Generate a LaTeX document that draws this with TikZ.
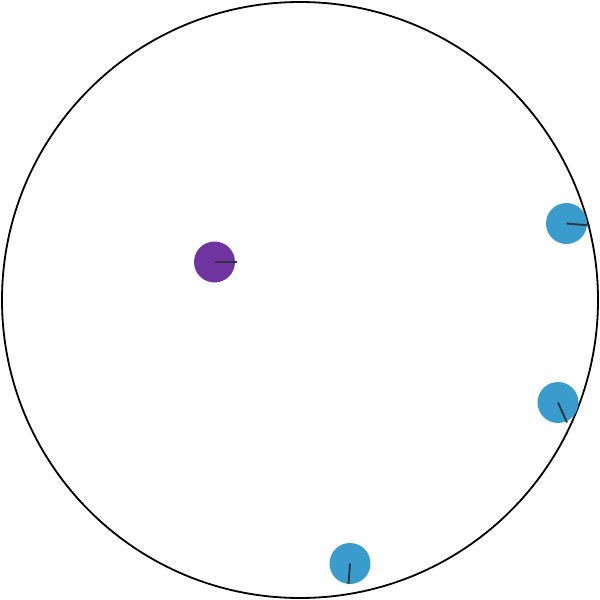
\documentclass[tikz,border=0pt]{standalone}
\definecolor{ballblue}{RGB}{58,155,205}
\definecolor{ballpurple}{RGB}{112,52,160}
\definecolor{needle}{RGB}{45,55,70}
\begin{document}
\begin{tikzpicture}[x=0.5pt,y=-0.5pt,
  ball/.style={circle,inner sep=0pt,minimum size=20.5pt,draw=none},
  needleline/.style={draw=needle,line width=0.95pt}]
\useasboundingbox (0,0) rectangle (600,600);
\node[draw=black,line width=0.9pt,circle,inner sep=0pt,minimum size=298pt] (rim) at (300,300) {};
\node[ball,fill=ballpurple] (p) at (214.5,262) {};
\node[ball,fill=ballblue] (b1) at (566.5,223.5) {};
\node[ball,fill=ballblue] (b2) at (558,402.5) {};
\node[ball,fill=ballblue] (b3) at (350,563.5) {};
\coordinate (pe) at (237,262);
\coordinate (b1e) at (590,225.5);
\coordinate (b2e) at (567,422.5);
\coordinate (b3e) at (348.5,584);
\draw[needleline] (p.center) -- (pe);
\draw[needleline] (b1.center) -- (b1e);
\draw[needleline] (b2.center) -- (b2e);
\draw[needleline] (b3.center) -- (b3e);
\end{tikzpicture}
\end{document}
